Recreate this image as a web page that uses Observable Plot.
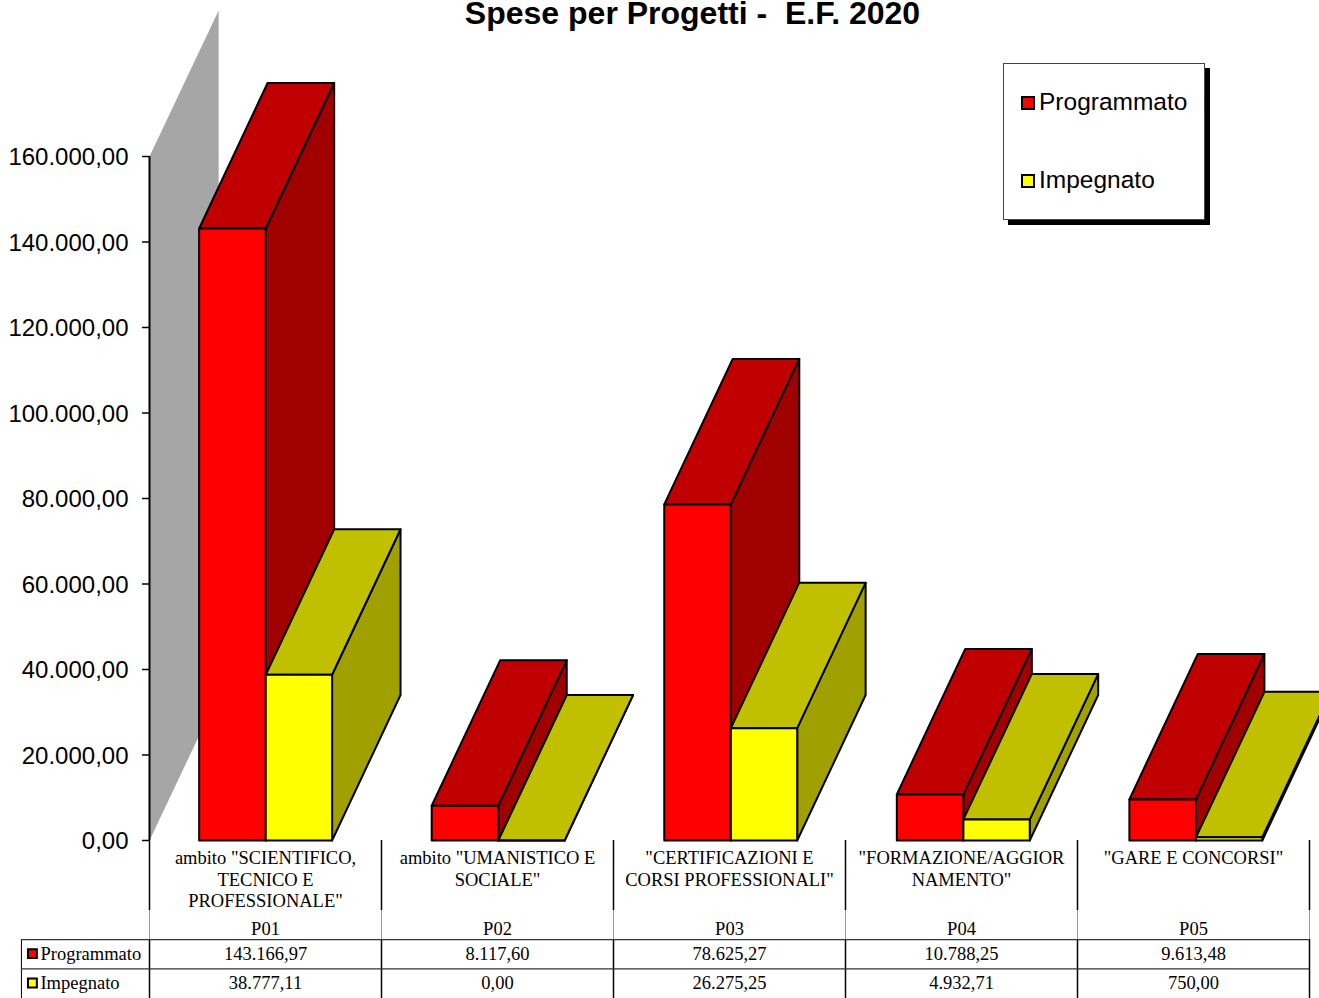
<!DOCTYPE html>
<html>
<head>
<meta charset="utf-8">
<script src="https://cdn.jsdelivr.net/npm/d3@7"></script>
<script src="https://cdn.jsdelivr.net/npm/@observablehq/plot@0.6"></script>
<style>
html,body{margin:0;padding:0;background:#fff;overflow:hidden;width:1319px;height:998px}
#wrap{position:relative;width:1319px;height:998px;overflow:hidden}
#wrap svg{position:absolute;left:0;top:0}
#title{position:absolute;left:0;width:1385px;top:0;line-height:26px;text-align:center;font-family:"Liberation Sans",sans-serif;font-weight:bold;font-size:32px;white-space:pre;color:#000}
#legend{position:absolute;left:1003px;top:63px;width:200px;height:155px;background:#fff;border:1px solid #444;box-shadow:5px 5px 0 #000;font:24.5px "Liberation Sans",sans-serif;color:#000}
#legend div{position:absolute;left:35px;white-space:nowrap;line-height:28px}
#legend i{position:absolute;left:17px;width:10px;height:10px;border:2px solid #000}
</style>
</head>
<body>
<div id="wrap"></div>
<script>
const codes = ["P01", "P02", "P03", "P04", "P05"];
const labels = [
  'ambito "SCIENTIFICO,\nTECNICO E\nPROFESSIONALE"',
  'ambito "UMANISTICO E\nSOCIALE"',
  '"CERTIFICAZIONI E\nCORSI PROFESSIONALI"',
  '"FORMAZIONE/AGGIOR\nNAMENTO"',
  '"GARE E CONCORSI"'
];
const programmato = [143166.97, 8117.60, 78625.27, 10788.25, 9613.48];
const impegnato = [38777.11, 0, 26275.25, 4932.71, 750];
const seriesNames = ["Programmato", "Impegnato"];
const yTicks = [0, 20000, 40000, 60000, 80000, 100000, 120000, 140000, 160000];

const redShades = {front: "#ff0000", top: "#c00000", side: "#a00000"};
const yellowShades = {front: "#ffff00", top: "#c0c000", side: "#a0a000"};
const font = '"Liberation Serif", serif';
const sans = '"Liberation Sans", sans-serif';

const fmt = d3.formatLocale({decimal: ",", thousands: ".", grouping: [3], currency: ["", ""]}).format(",.2f");

// 3D extrusion, in data units
const depthX = 0.295, depthY = 34030;
const barStep = 1.0024, bandStart = 0.214, bandMid = 0.501, bandEnd = 0.787;

const polys = [];
function poly(id, color, pts) {
  pts.forEach(([x, y]) => polys.push({id, color, x, y}));
}
function box(id, x0, x1, v, shade) {
  const dx = depthX, dy = depthY;
  poly(id + "-side", shade.side, [[x1, 0], [x1 + dx, dy], [x1 + dx, v + dy], [x1, v]]);
  poly(id + "-top", shade.top, [[x0, v], [x0 + dx, v + dy], [x1 + dx, v + dy], [x1, v]]);
  poly(id + "-front", shade.front, [[x0, 0], [x1, 0], [x1, v], [x0, v]]);
}
codes.forEach((c, i) => {
  const o = i * barStep;
  box(c + "-p", o + bandStart, o + bandMid, programmato[i], redShades);
  box(c + "-i", o + bandMid, o + bandEnd, impegnato[i], yellowShades);
});

const wall = [[0, 0], [0, 160000], [0.298, 160000 + 34150], [0.298, 34150]].map(([x, y]) => ({x, y}));

// table rows below the zero line, in y units of the chart
const headBreak = -16400, rowA = -23200, rowB = -30050, rowEnd = -36959;
const tableLeft = -0.552;
const cols = d3.range(0, 6);
const centers = codes.map((c, i) => i + 0.5);

const chart = Plot.plot({
  width: 1319,
  height: 998,
  marginTop: 156,
  marginBottom: 0,
  marginLeft: 149,
  marginRight: 10,
  style: {background: "transparent", overflow: "visible"},
  x: {domain: [0, 5], axis: null},
  y: {domain: [rowEnd, 160000], axis: null},
  marks: [
    Plot.line(wall, {x: "x", y: "y", fill: "#a6a6a6", stroke: "none", curve: "linear-closed"}),
    Plot.line(polys, {x: "x", y: "y", z: "id", fill: "color", stroke: "#000", strokeWidth: 2, strokeMiterlimit: 4, curve: "linear-closed"}),
    // y axis
    Plot.ruleX([0], {y1: 0, y2: 160000, stroke: "#000", strokeWidth: 2}),
    Plot.ruleY(yTicks, {x1: -0.03, x2: 0, stroke: "#000", strokeWidth: 1.5}),
    Plot.axisY({
      ticks: yTicks, tickFormat: fmt, tickSize: 0, tickPadding: 21, label: null, dy: 1,
      fontSize: 24, fontFamily: sans, fill: "#000"
    }),
    // table grid
    Plot.ruleX(cols, {x: d => d, y1: 0, y2: headBreak, stroke: "#000", strokeWidth: 1.5}),
    Plot.ruleX(cols, {x: d => d, y1: headBreak, y2: rowA, stroke: "#999", strokeWidth: 1}),
    Plot.ruleX(cols, {x: d => d, y1: rowA, y2: rowEnd, stroke: "#000", strokeWidth: 1.5}),
    Plot.ruleX([tableLeft], {y1: rowA, y2: rowEnd, stroke: "#000", strokeWidth: 1}),
    Plot.ruleY([rowA, rowB], {x1: tableLeft, x2: 5, stroke: "#333", strokeWidth: 1.2}),
    // table text
    Plot.text(labels, {x: (d, i) => centers[i], y: () => 0, text: d => d, dy: 8, lineAnchor: "top", lineHeight: 1.17, fontSize: 18.5, fontFamily: font, fill: "#000"}),
    Plot.text(codes, {x: (d, i) => centers[i], y: () => rowA, text: d => d, dy: -11, fontSize: 18.5, fontFamily: font, fill: "#000"}),
    Plot.text(programmato, {x: (d, i) => centers[i], y: () => rowA, text: d => fmt(d), dy: 14, fontSize: 18.5, fontFamily: font, fill: "#000"}),
    Plot.text(impegnato, {x: (d, i) => centers[i], y: () => rowB, text: d => fmt(d), dy: 14, fontSize: 18.5, fontFamily: font, fill: "#000"}),
    Plot.text(seriesNames, {x: tableLeft, y: (d, i) => i ? rowB : rowA, text: d => d, dx: 19, dy: 14, textAnchor: "start", fontSize: 18.5, fontFamily: font, fill: "#000"}),
    Plot.dot(seriesNames, {x: tableLeft, y: (d, i) => i ? rowB : rowA, dx: 11, dy: 14, symbol: "square", r: 5, fill: (d, i) => i ? yellowShades.front : redShades.front, stroke: "#000", strokeWidth: 2})
  ]
});

const wrap = document.getElementById("wrap");
wrap.appendChild(chart);

const t = document.createElement("div");
t.id = "title";
t.textContent = "Spese per Progetti -  E.F. 2020";
wrap.appendChild(t);

const lg = document.createElement("div");
lg.id = "legend";
[[24, redShades.front], [102, yellowShades.front]].forEach(([top, col], i) => {
  const d = document.createElement("div");
  d.style.top = top + "px";
  d.textContent = seriesNames[i];
  lg.appendChild(d);
  const s = document.createElement("i");
  s.style.top = top + 8 + "px";
  s.style.background = col;
  lg.appendChild(s);
});
wrap.appendChild(lg);
</script>
</body>
</html>
